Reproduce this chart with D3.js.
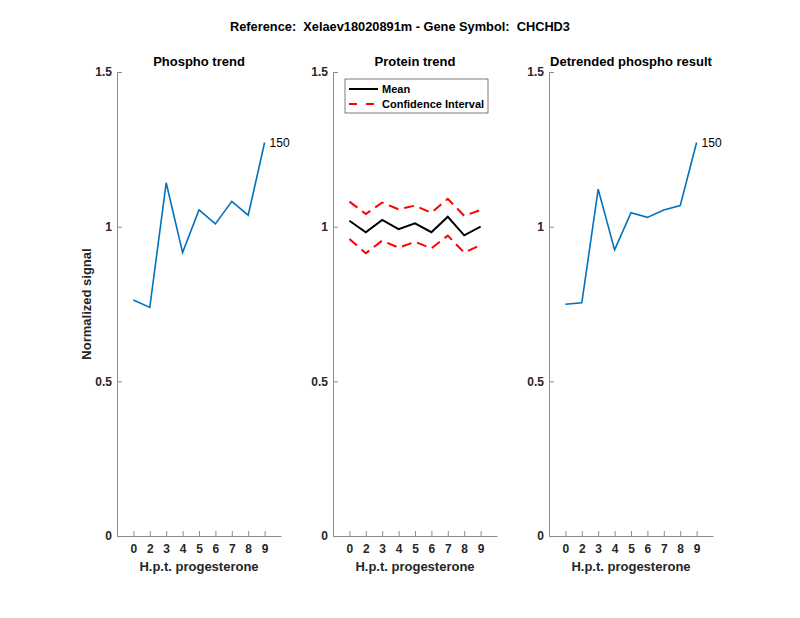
<!DOCTYPE html>
<html>
<head>
<meta charset="utf-8">
<script src="https://cdn.jsdelivr.net/npm/d3@7"></script>
<style>
  body { margin: 0; background: #fff; }
  text { font-family: "Liberation Sans", Arial, sans-serif; white-space: pre; }
</style>
</head>
<body>
<svg width="800" height="618"></svg>
<script>
// tick labels on x (hours post progesterone)
const hours = ['0', '2', '3', '4', '5', '6', '7', '8', '9'];

// panel 1: phospho trend
const phospho = [0.763, 0.739, 1.142, 0.916, 1.054, 1.009, 1.082, 1.037, 1.272];
// panel 2: protein trend
const proteinMean = [1.019, 0.982, 1.022, 0.992, 1.011, 0.982, 1.032, 0.972, 1.000];
const ciUpper = [1.081, 1.041, 1.078, 1.056, 1.068, 1.045, 1.090, 1.035, 1.054];
const ciLower = [0.960, 0.914, 0.955, 0.932, 0.951, 0.930, 0.971, 0.916, 0.941];
// panel 3: detrended
const detrended = [0.749, 0.754, 1.121, 0.925, 1.045, 1.030, 1.054, 1.068, 1.272];

const yTicks = [0, 0.5, 1, 1.5];
const titles = ['Phospho trend', 'Protein trend', 'Detrended phospho result'];
const peptideLabel = '150';

const svg = d3.select('svg');
const W = 164, plotTop = 72, plotBottom = 536;
const lefts = [117, 333, 549];
const axisColor = '#8c8c8c';

svg.append('text')
  .attr('x', 400).attr('y', 31)
  .attr('text-anchor', 'middle')
  .attr('font-size', 12.8).attr('font-weight', 'bold')
  .text('Reference:  Xelaev18020891m - Gene Symbol:  CHCHD3');

const y = d3.scaleLinear().domain([0, 1.5]).range([plotBottom, plotTop]);

lefts.forEach((left, p) => {
  const g = svg.append('g');
  const x = d3.scaleLinear().domain([0, 10]).range([left, left + W]);
  const idx = hours.map((h, i) => i + 1);

  // x axis (ticks inward)
  const xa = g.append('g').attr('transform', `translate(0,${plotBottom})`)
    .call(d3.axisBottom(x).tickValues(idx).tickFormat((d, i) => hours[i])
      .tickSizeInner(-5).tickSizeOuter(0).tickPadding(8));
  // y axis
  const ya = g.append('g').attr('transform', `translate(${left},0)`)
    .call(d3.axisLeft(y).tickValues(yTicks).tickFormat(d3.format('~g'))
      .tickSizeInner(-5).tickSizeOuter(0).tickPadding(5));
  [xa, ya].forEach(a => {
    a.select('.domain').attr('stroke', axisColor);
    a.selectAll('.tick line').attr('stroke', axisColor);
    a.selectAll('.tick text').attr('fill', '#262626')
      .attr('font-size', 12).attr('font-weight', 'bold')
      .attr('font-family', '"Liberation Sans", Arial, sans-serif');
  });

  g.append('text')
    .attr('x', left + W / 2).attr('y', 66)
    .attr('text-anchor', 'middle')
    .attr('font-size', 13).attr('font-weight', 'bold')
    .text(titles[p]);

  g.append('text')
    .attr('x', left + W / 2).attr('y', 571)
    .attr('text-anchor', 'middle')
    .attr('font-size', 13).attr('font-weight', 'bold')
    .attr('fill', '#262626')
    .text('H.p.t. progesterone');

  const line = d3.line().x((d, i) => x(i + 1)).y(d => y(d));

  if (p === 1) {
    g.append('path').datum(ciUpper).attr('d', line)
      .attr('fill', 'none').attr('stroke', '#ff0000').attr('stroke-width', 2)
      .attr('stroke-dasharray', '10,6');
    g.append('path').datum(ciLower).attr('d', line)
      .attr('fill', 'none').attr('stroke', '#ff0000').attr('stroke-width', 2)
      .attr('stroke-dasharray', '10,6');
    g.append('path').datum(proteinMean).attr('d', line)
      .attr('fill', 'none').attr('stroke', '#000').attr('stroke-width', 2);

    // legend
    const lg = g.append('g');
    lg.append('rect').attr('x', 345).attr('y', 79).attr('width', 143).attr('height', 34)
      .attr('fill', '#fff').attr('stroke', '#262626').attr('stroke-width', 0.6);
    lg.append('line').attr('x1', 349).attr('x2', 378).attr('y1', 89).attr('y2', 89)
      .attr('stroke', '#000').attr('stroke-width', 2);
    lg.append('line').attr('x1', 349).attr('x2', 378).attr('y1', 104).attr('y2', 104)
      .attr('stroke', '#ff0000').attr('stroke-width', 2).attr('stroke-dasharray', '8,9');
    lg.append('text').attr('x', 382).attr('y', 93).attr('font-size', 11).attr('font-weight', 'bold').text('Mean');
    lg.append('text').attr('x', 382).attr('y', 108).attr('font-size', 11).attr('font-weight', 'bold').text('Confidence Interval');
  } else {
    const vals = p === 0 ? phospho : detrended;
    g.append('path').datum(vals).attr('d', line)
      .attr('fill', 'none').attr('stroke', '#0072BD').attr('stroke-width', 1.6);
    g.append('text')
      .attr('x', x(vals.length) + 5).attr('y', y(vals[vals.length - 1]) + 4)
      .attr('font-size', 12).text(peptideLabel);
  }
});

svg.append('text')
  .attr('transform', `translate(91,${(plotTop + plotBottom) / 2}) rotate(-90)`)
  .attr('text-anchor', 'middle')
  .attr('font-size', 13).attr('font-weight', 'bold')
  .attr('fill', '#262626')
  .text('Normalized signal');
</script>
</body>
</html>
